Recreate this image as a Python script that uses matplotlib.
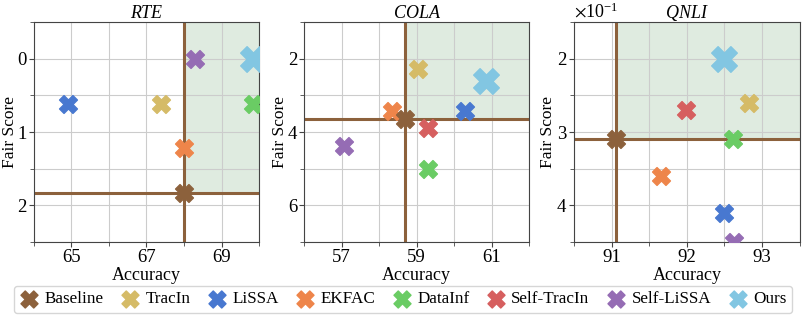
import matplotlib
matplotlib.use("Agg")
import matplotlib.pyplot as plt
from matplotlib.ticker import MultipleLocator, FixedLocator, ScalarFormatter
from matplotlib.patches import Rectangle

plt.rcParams['font.family'] = ['Liberation Serif', 'DejaVu Serif']
plt.rcParams['mathtext.fontset'] = 'stix'

methods = ["Baseline", "TracIn", "LiSSA", "EKFAC", "DataInf", "Self-TracIn", "Self-LiSSA", "Ours"]
colors = ["#8c613c", "#d5bb67", "#4878d0", "#ee854a", "#6acc64", "#d65f5f", "#956cb4", "#82c6e2"]

# accuracy / fair score per method, same order as methods
rte_acc = [68.0, 67.38, 64.9, 68.0, 69.84, 69.84, 68.3, 69.84]
rte_fair = [1.83, 0.62, 0.62, 1.22, 0.62, 0.0, 0.0, 0.0]

cola_acc = [58.68, 59.03, 60.3, 58.33, 59.3, 59.3, 57.05, 60.85]
cola_fair = [3.65, 2.28, 3.42, 3.42, 5.02, 3.9, 4.38, 2.6]

qnli_acc = [91.05, 92.82, 92.49, 91.65, 92.62, 91.99, 92.63, 92.49]
qnli_fair = [0.31, 0.261, 0.41, 0.36, 0.31, 0.27, 0.45, 0.20]

panels = [
    dict(title="RTE", acc=rte_acc, fair=rte_fair, xlim=(64, 70), ylim=(2.5, -0.5),
         xticks=[65, 67, 69], xmin=1, ymaj=1, ymin=0.5, sci=False),
    dict(title="COLA", acc=cola_acc, fair=cola_fair, xlim=(56, 62), ylim=(7, 1),
         xticks=[57, 59, 61], xmin=1, ymaj=2, ymin=1, sci=False),
    dict(title="QNLI", acc=qnli_acc, fair=qnli_fair, xlim=(90.5, 93.5), ylim=(0.45, 0.15),
         xticks=[91, 92, 93], xmin=0.5, ymaj=0.1, ymin=0.05, sci=True),
]

fig, axes = plt.subplots(1, 3, figsize=(8.06, 3.22), dpi=100)
fig.subplots_adjust(left=0.042, right=0.992, bottom=0.248, top=0.932, wspace=0.2)

for ax, p in zip(axes, panels):
    ax.set_xlim(*p["xlim"])
    ax.set_ylim(*p["ylim"])
    bx, by = p["acc"][0], p["fair"][0]

    # better-than-baseline region
    x0, x1 = p["xlim"]
    ytop = p["ylim"][1]
    ax.add_patch(Rectangle((bx, ytop), x1 - bx, by - ytop, color="#2e7d32",
                           alpha=0.15, lw=0, zorder=0))
    ax.axvline(bx, color=colors[0], lw=2.2, zorder=2)
    ax.axhline(by, color=colors[0], lw=2.2, zorder=2)

    for i, (m, c) in enumerate(zip(methods, colors)):
        s = 340 if m == "Ours" else 165
        z = 5 if m == "Baseline" else 3
        ax.scatter(p["acc"][i], p["fair"][i], marker="X", s=s, color=c,
                   label=m, zorder=z)

    ax.xaxis.set_major_locator(FixedLocator(p["xticks"]))
    ax.xaxis.set_minor_locator(MultipleLocator(p["xmin"]))
    ax.yaxis.set_major_locator(MultipleLocator(p["ymaj"]))
    ax.yaxis.set_minor_locator(MultipleLocator(p["ymin"]))
    if p["sci"]:
        fmt = ScalarFormatter(useMathText=True)
        fmt.set_powerlimits((0, 0))
        ax.yaxis.set_major_formatter(fmt)
        ax.yaxis.get_offset_text().set_fontsize(13)
    ax.grid(True, which="both", color="#cccccc", lw=0.8, zorder=0)
    ax.set_axisbelow(True)
    ax.tick_params(labelsize=13.5, length=3.5, pad=1.5, color="#444444")
    ax.tick_params(which="minor", length=3, color="#444444")
    for sp in ax.spines.values():
        sp.set_color("#444444")
    ax.set_title(p["title"], style="italic", fontsize=13, pad=3)
    ax.set_xlabel("Accuracy", fontsize=13, labelpad=1)
    ax.set_ylabel("Fair Score", fontsize=12.5, labelpad=0)

handles, labels = axes[0].get_legend_handles_labels()
leg = fig.legend(handles, labels, loc="lower center", bbox_to_anchor=(0.5, 0.0),
                 ncol=8, fontsize=12.3, frameon=True, handlelength=1.1,
                 handletextpad=0.35, columnspacing=1.0, borderpad=0.35)
for h in leg.legend_handles:
    h.set_sizes([150])
leg.get_frame().set_edgecolor("#cccccc")

fig.savefig("out.png", dpi=100)
